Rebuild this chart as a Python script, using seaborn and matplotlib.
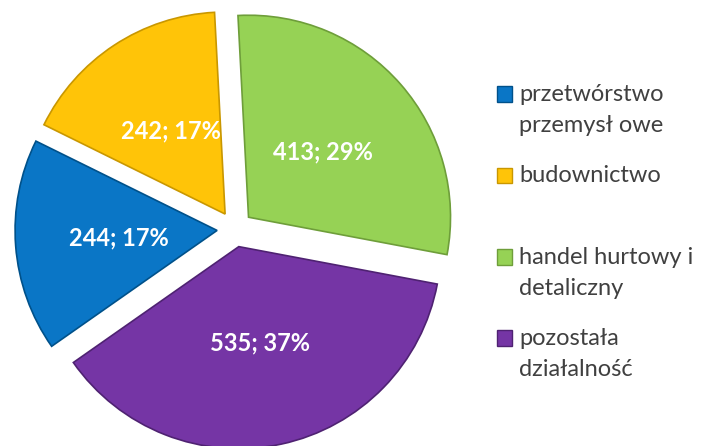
import matplotlib
matplotlib.use("Agg")
import matplotlib.pyplot as plt
import seaborn as sns
from matplotlib.patches import Patch, Rectangle
from matplotlib.legend_handler import HandlerPatch

# Data (clockwise from 12 o'clock)
categories = ["handel hurtowy i\ndetaliczny", "pozostała\ndziałalność",
              "przetwórstwo\nprzemysł owe", "budownictwo"]
values = [413, 535, 244, 242]
colors = ["#96D255", "#7535A5", "#0A76C6", "#FFC408"]
edge_colors = ["#6E9E3A", "#4F2272", "#00518A", "#C99700"]
legend_order = [2, 3, 0, 1]

sns.set_theme(style="white")
plt.rcParams['font.family'] = ['Lato', 'DejaVu Sans']

fig = plt.figure(figsize=(7.04, 4.46), dpi=100)
fig.patch.set_facecolor("white")
ax = fig.add_axes([0, 0, 470 / 704, 1])

total = sum(values)
wedges, texts, autotexts = ax.pie(
    values, colors=colors, startangle=93, counterclock=False,
    explode=[0.089] * len(values),
    autopct=lambda p: f"{p * total / 100:.0f}; {p:.0f}%",
    pctdistance=0.49,
    textprops=dict(color="white", fontsize=17, fontweight="bold"),
    wedgeprops=dict(linewidth=1.2),
)
for w, ec in zip(wedges, edge_colors):
    w.set_edgecolor(ec)

ax.set_xlim(-1.163, 1.163)
ax.set_ylim(-1.074, 1.134)


def top_square(legend, orig_handle, xdescent, ydescent, width, height, fontsize):
    return Rectangle((-xdescent, -ydescent + 11.6), width, height)


handles = [Patch(facecolor=colors[i], edgecolor=edge_colors[i]) for i in legend_order]
labels = [categories[i] if "\n" in categories[i] else categories[i] + "\n" for i in legend_order]
leg = fig.legend(handles, labels, loc="upper left",
                 bbox_to_anchor=(497 / 704, 1 - 84 / 446),
                 frameon=False, fontsize=17, handlelength=0.64, handleheight=0.64,
                 handletextpad=0.3, labelspacing=1.25, borderpad=0, borderaxespad=0,
                 handler_map={Patch: HandlerPatch(patch_func=top_square)})
for t in leg.get_texts():
    t.set_color("#404040")
    t.set_linespacing(1.58)

fig.savefig("out.png", dpi=100, facecolor="white")
